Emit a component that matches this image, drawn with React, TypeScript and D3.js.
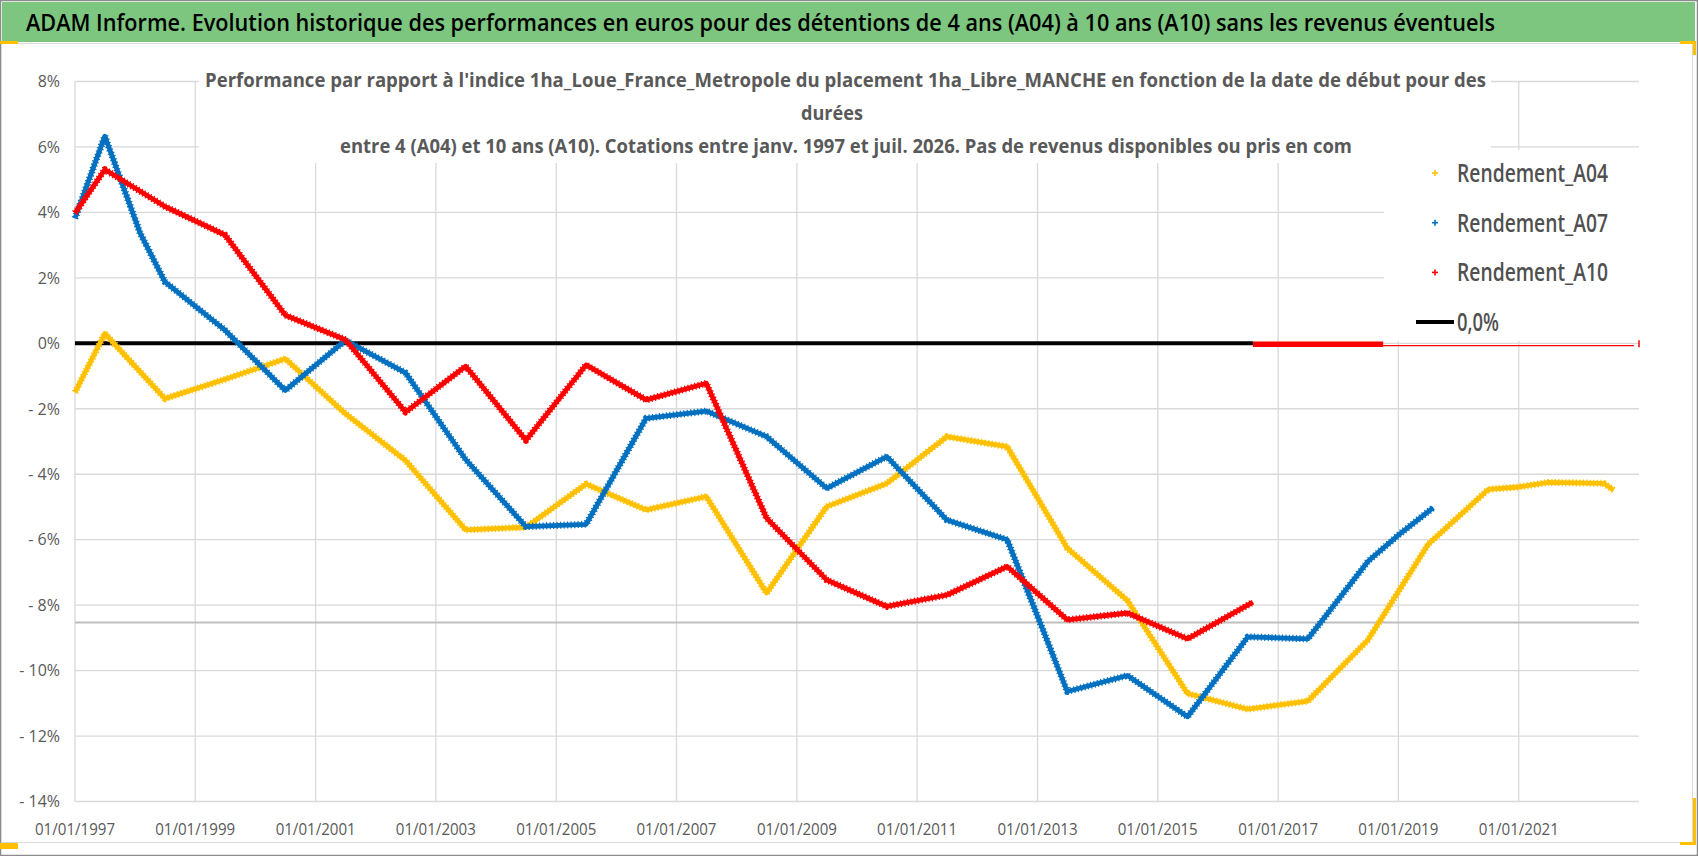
import React from "react";
import * as d3 from "d3";

const W = 1698;
const H = 856;

const TITLE =
  "ADAM Informe. Evolution historique des performances en euros pour des détentions de 4 ans (A04) à 10 ans (A10) sans les revenus éventuels";
const SUBTITLE_LINES = [
  "Performance par rapport à l'indice 1ha_Loue_France_Metropole  du placement 1ha_Libre_MANCHE en fonction de la date de début pour des",
  "durées",
  "entre 4 (A04) et 10 ans (A10). Cotations entre janv. 1997 et juil. 2026. Pas de revenus disponibles ou pris en com",
];

const yTicks = [8, 6, 4, 2, 0, -2, -4, -6, -8, -10, -12, -14];
const xTickYears = [1997, 1999, 2001, 2003, 2005, 2007, 2009, 2011, 2013, 2015, 2017, 2019, 2021];

const a04Dates = ["1997-01","1997-07","1998-07","1999-07","2000-07","2001-07","2002-07","2003-07","2004-07","2005-07","2006-07","2007-07","2008-07","2009-07","2010-07","2011-07","2012-07","2013-07","2014-07","2015-07","2016-07","2017-07","2018-07","2019-07","2020-07","2021-01","2021-07","2022-06","2022-08"];
const a04Values = [-1.5, 0.3, -1.69, -1.1, -0.47, -2.15, -3.58, -5.7, -5.62, -4.3, -5.09, -4.68, -7.63, -4.99, -4.28, -2.85, -3.16, -6.26, -7.86, -10.7, -11.18, -10.93, -9.06, -6.14, -4.46, -4.39, -4.25, -4.28, -4.49];

const a07Dates = ["1997-01","1997-07","1998-02","1998-07","1999-07","2000-07","2001-07","2002-07","2003-07","2004-07","2005-07","2006-07","2007-07","2008-07","2009-07","2010-07","2011-07","2012-07","2013-07","2014-07","2015-07","2016-07","2017-07","2018-07","2019-01","2019-08"];
const a07Values = [3.82, 6.33, 3.36, 1.88, 0.4, -1.44, 0.09, -0.9, -3.55, -5.6, -5.53, -2.29, -2.07, -2.85, -4.43, -3.46, -5.4, -6.0, -10.64, -10.15, -11.41, -8.97, -9.03, -6.66, -5.86, -5.02];

const a10Dates = ["1997-01","1997-07","1998-07","1999-07","2000-07","2001-07","2002-07","2003-07","2004-07","2005-07","2006-07","2007-07","2008-07","2009-07","2010-07","2011-07","2012-07","2013-07","2014-07","2015-07","2016-08"];
const a10Values = [3.98, 5.31, 4.18, 3.31, 0.86, 0.11, -2.1, -0.7, -2.96, -0.66, -1.73, -1.22, -5.34, -7.23, -8.04, -7.69, -6.82, -8.45, -8.24, -9.03, -7.91];

// zero reference line (black) and A10 blanks plotted as zero (red)
const zeroDates = ["1997-01", "2016-08"];
const zeroValues = [0, 0];
const a10ZeroThickDates = ["2016-08", "2018-10"];
const a10ZeroThinDates = ["2018-10", "2022-12"];
const a10ZeroValues = [0, 0];

const greyLineValue = -8.53;

const legendItems = [
  { label: "Rendement_A04", color: "#FFC000", kind: "marker" },
  { label: "Rendement_A07", color: "#0070C0", kind: "marker" },
  { label: "Rendement_A10", color: "#FF0000", kind: "marker" },
  { label: "0,0%", color: "#000000", kind: "line" },
];

const FONT = "'Open Sans', 'Noto Sans', 'DejaVu Sans', sans-serif";

function parse(s: string): Date {
  const [y, m] = s.split("-").map(Number);
  return new Date(y, m - 1, 1);
}

function zip(dates: string[], values: number[]) {
  return dates.map((d, i) => ({ date: parse(d), value: values[i] }));
}

export default function App() {
  const left = 75;
  const right = 1639;
  const top = 81.5;
  const bottom = 801.5;

  const x = d3.scaleTime().domain([new Date(1997, 0, 1), new Date(2023, 0, 1)]).range([left, right]);
  const y = d3.scaleLinear().domain([-14, 8]).range([bottom, top]);

  const line = d3
    .line<{ date: Date; value: number }>()
    .x((d) => x(d.date))
    .y((d) => y(d.value));

  const series = [
    { data: zip(a04Dates, a04Values), color: "#FFC000" },
    { data: zip(a07Dates, a07Values), color: "#0070C0" },
    { data: zip(a10Dates, a10Values), color: "#FF0000" },
  ];

  const fmtY = (v: number) => (v < 0 ? `- ${Math.abs(v)}%` : `${v}%`);
  const fmtX = d3.timeFormat("%d/%m/%Y");

  const gridColor = "#d9d9d9";
  const textGrey = "#595959";

  // boxes covering the gridlines (title and legend)
  const subBox = { x0: 199, x1: 1491, y0: 60, y1: 163 };
  const legBox = { x0: 1384, x1: 1641, y0: 150, y1: 341 };

  return (
    <div style={{ width: W, height: H }}>
      <style>{`body{margin:0;}`}</style>
      <svg width={W} height={H} style={{ display: "block", background: "#fff" }}>
        {/* outer border */}
        <rect x={0.5} y={0.5} width={W - 1} height={H - 1} fill="#fff" stroke="#8c8c8c" strokeWidth={1.5} />
        {/* title bar */}
        <rect x={2} y={2} width={1693} height={40} fill="#7DC67F" />
        <text
          x={26}
          y={31}
          fontFamily={FONT}
          fontSize={24}
          fontWeight={600}
          fill="#000"
          textLength={1469}
          lengthAdjust="spacingAndGlyphs"
        >
          {TITLE}
        </text>
        {/* chart area border */}
        <rect x={1.5} y={43.5} width={1691} height={799} fill="none" stroke={gridColor} strokeWidth={1} />

        {/* Excel corner handles */}
        <rect x={0} y={41} width={18} height={3} fill="#FFC000" />
        <path d="M1680,42.5 H1694.5 V55" fill="none" stroke="#FFC000" strokeWidth={3} />
        <path d="M1694.5,798 V843.5 H1680" fill="none" stroke="#FFC000" strokeWidth={3} />
        <rect x={0} y={843} width={18} height={6} fill="#FFC000" />

        {/* gridlines */}
        <g>
          {yTicks.map((t) => (
            <line key={`h${t}`} x1={left} x2={right} y1={y(t)} y2={y(t)} stroke={gridColor} strokeWidth={1.3} />
          ))}
          {xTickYears.map((yr) => {
            const xx = x(new Date(yr, 0, 1));
            return <line key={`v${yr}`} x1={xx} x2={xx} y1={top} y2={bottom} stroke={gridColor} strokeWidth={1.3} />;
          })}
        </g>

        {/* grey reference line */}
        <line x1={left} x2={right} y1={y(greyLineValue)} y2={y(greyLineValue)} stroke="#bfbfbf" strokeWidth={2} />

        {/* subtitle box */}
        <rect x={subBox.x0} y={subBox.y0} width={subBox.x1 - subBox.x0} height={subBox.y1 - subBox.y0} fill="#fff" />
        <g fontFamily={FONT} fontWeight={700} fontSize={19} fill={textGrey}>
          <text x={205} y={86.5} textLength={1281} lengthAdjust="spacingAndGlyphs">
            {SUBTITLE_LINES[0]}
          </text>
          <text x={801} y={119.5} textLength={62} lengthAdjust="spacingAndGlyphs">
            {SUBTITLE_LINES[1]}
          </text>
          <text x={340} y={152.5} textLength={1012} lengthAdjust="spacingAndGlyphs">
            {SUBTITLE_LINES[2]}
          </text>
        </g>

        {/* legend box */}
        <rect x={legBox.x0} y={legBox.y0} width={legBox.x1 - legBox.x0} height={legBox.y1 - legBox.y0} fill="#fff" />

        {/* zero line */}
        <path d={line(zip(zeroDates, zeroValues)) || ""} fill="none" stroke="#000" strokeWidth={4} />

        {/* series */}
        {series.map((s, i) => (
          <g key={i}>
            <path d={line(s.data) || ""} fill="none" stroke={s.color} strokeWidth={4.8} strokeLinejoin="round" />
            <path
              d={line(s.data) || ""}
              fill="none"
              stroke={s.color}
              strokeWidth={7}
              strokeDasharray="1.2 2.3"
              strokeLinejoin="round"
            />
          </g>
        ))}

        {/* A10 blanks shown as zero */}
        <path d={line(zip(a10ZeroThickDates, a10ZeroValues)) || ""} fill="none" stroke="#FF0000" strokeWidth={5.5} transform="translate(0,1)" />
        <path d={line(zip(a10ZeroThinDates, a10ZeroValues)) || ""} fill="none" stroke="#FF0000" strokeWidth={1.2} transform="translate(0,2.3)" />
        <line x1={right} x2={right} y1={y(0) - 3} y2={y(0) + 4} stroke="#FF0000" strokeWidth={1.5} />

        {/* y axis labels */}
        <g fontFamily={FONT} fontSize={16} fill={textGrey}>
          {yTicks.map((t) => (
            <text key={`yl${t}`} x={60} y={y(t)} dy="0.36em" textAnchor="end">
              {fmtY(t)}
            </text>
          ))}
        </g>

        {/* x axis labels */}
        <g fontFamily={FONT} fontSize={16} fill={textGrey}>
          {xTickYears.map((yr) => {
            const d = new Date(yr, 0, 1);
            const xx = x(d);
            return (
              <text key={`xl${yr}`} x={xx - 40} y={835} textLength={80} lengthAdjust="spacingAndGlyphs">
                {fmtX(d)}
              </text>
            );
          })}
        </g>

        {/* legend */}
        <g fontFamily={FONT} fontSize={25} fontWeight={600} fill="#505050">
          {legendItems.map((it, i) => {
            const cy = 173 + i * 49.7;
            return (
              <g key={it.label}>
                {it.kind === "marker" ? (
                  <g stroke={it.color} strokeWidth={1.6}>
                    <line x1={1432} x2={1438} y1={cy} y2={cy} />
                    <line x1={1435} x2={1435} y1={cy - 3} y2={cy + 3} />
                  </g>
                ) : (
                  <line x1={1416} x2={1454} y1={cy} y2={cy} stroke={it.color} strokeWidth={4} />
                )}
                <text
                  x={1457}
                  y={cy}
                  dy="0.36em"
                  textLength={it.kind === "marker" ? 151 : 42}
                  lengthAdjust="spacingAndGlyphs"
                >
                  {it.label}
                </text>
              </g>
            );
          })}
        </g>
      </svg>
    </div>
  );
}
